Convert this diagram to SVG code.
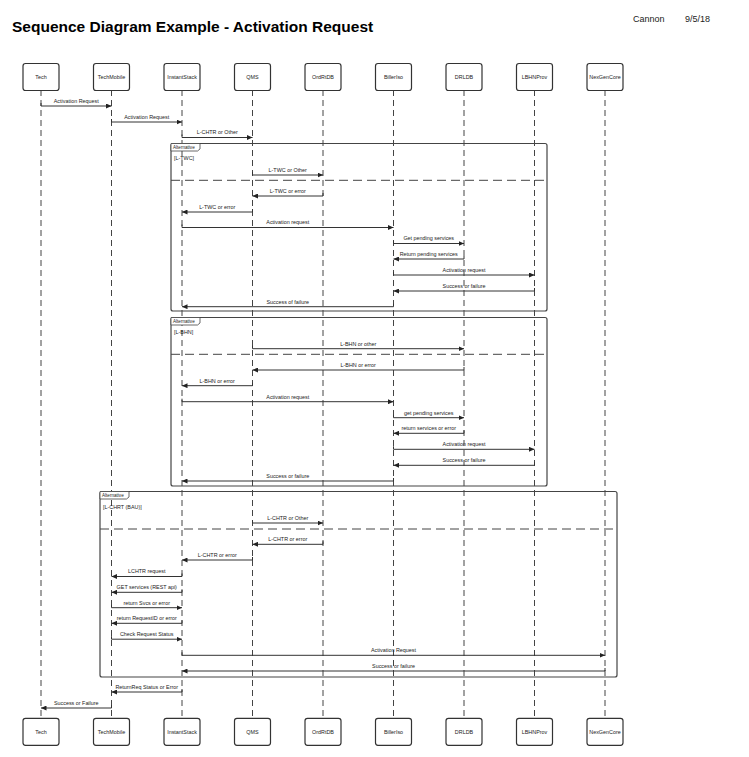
<svg xmlns="http://www.w3.org/2000/svg" width="749" height="757" viewBox="0 0 749 757">
<style>
text{font-family:"Liberation Sans",Arial,sans-serif;fill:#222}
.title{font-size:15.5px;font-weight:bold;fill:#000}
.hdr{font-size:9px;fill:#222}
.pl{font-size:5.4px;text-anchor:middle}
.box{fill:#fff;stroke:#333;stroke-width:1.2}
.ll{stroke:#444;stroke-width:1;stroke-dasharray:6 4;fill:none}
.frame{fill:none;stroke:#444;stroke-width:1.2}
.div{stroke:#444;stroke-width:1;stroke-dasharray:9 5;fill:none}
.tab{fill:#fff;stroke:#444;stroke-width:0.8}
.tabt{font-size:4.6px}
.guard{font-size:5.4px}
.msg{fill:none;stroke:#333;stroke-width:1;marker-end:url(#ah)}
.lbl{font-size:5.4px;text-anchor:middle}
</style>
<defs>
<marker id="ah" markerUnits="userSpaceOnUse" markerWidth="6" markerHeight="5" refX="5.5" refY="2.5" orient="auto">
<path d="M0,0 L5.5,2.5 L0,5 z" fill="#222"/>
</marker>
</defs>
<rect width="749" height="757" fill="#fff"/>
<text class="title" x="12" y="31.5">Sequence Diagram Example - Activation Request</text>
<text class="hdr" x="633" y="22">Cannon</text>
<text class="hdr" x="685" y="22">9/5/18</text>

<g id="p-tech"><path class="ll" d="M41,90 V718"/><rect class="box" x="23" y="63.5" width="36" height="27" rx="2.5"/><text class="pl" x="41" y="79">Tech</text><rect class="box" x="23" y="718.3" width="36" height="27" rx="2.5"/><text class="pl" x="41" y="733.5">Tech</text></g>
<g id="p-techmobile"><path class="ll" d="M111.5,90 V718"/><rect class="box" x="93.5" y="63.5" width="36" height="27" rx="2.5"/><text class="pl" x="111.5" y="79">TechMobile</text><rect class="box" x="93.5" y="718.3" width="36" height="27" rx="2.5"/><text class="pl" x="111.5" y="733.5">TechMobile</text></g>
<g id="p-instantstack"><path class="ll" d="M182,90 V718"/><rect class="box" x="164" y="63.5" width="36" height="27" rx="2.5"/><text class="pl" x="182" y="79">InstantStack</text><rect class="box" x="164" y="718.3" width="36" height="27" rx="2.5"/><text class="pl" x="182" y="733.5">InstantStack</text></g>
<g id="p-qms"><path class="ll" d="M252.5,90 V718"/><rect class="box" x="234.5" y="63.5" width="36" height="27" rx="2.5"/><text class="pl" x="252.5" y="79">QMS</text><rect class="box" x="234.5" y="718.3" width="36" height="27" rx="2.5"/><text class="pl" x="252.5" y="733.5">QMS</text></g>
<g id="p-ordrtdb"><path class="ll" d="M323,90 V718"/><rect class="box" x="305" y="63.5" width="36" height="27" rx="2.5"/><text class="pl" x="323" y="79">OrdRtDB</text><rect class="box" x="305" y="718.3" width="36" height="27" rx="2.5"/><text class="pl" x="323" y="733.5">OrdRtDB</text></g>
<g id="p-billeriso"><path class="ll" d="M393.5,90 V718"/><rect class="box" x="375.5" y="63.5" width="36" height="27" rx="2.5"/><text class="pl" x="393.5" y="79">BillerIso</text><rect class="box" x="375.5" y="718.3" width="36" height="27" rx="2.5"/><text class="pl" x="393.5" y="733.5">BillerIso</text></g>
<g id="p-drldb"><path class="ll" d="M464,90 V718"/><rect class="box" x="446" y="63.5" width="36" height="27" rx="2.5"/><text class="pl" x="464" y="79">DRLDB</text><rect class="box" x="446" y="718.3" width="36" height="27" rx="2.5"/><text class="pl" x="464" y="733.5">DRLDB</text></g>
<g id="p-lbhnprov"><path class="ll" d="M534.5,90 V718"/><rect class="box" x="516.5" y="63.5" width="36" height="27" rx="2.5"/><text class="pl" x="534.5" y="79">LBHNProv</text><rect class="box" x="516.5" y="718.3" width="36" height="27" rx="2.5"/><text class="pl" x="534.5" y="733.5">LBHNProv</text></g>
<g id="p-nexgencore"><path class="ll" d="M605,90 V718"/><rect class="box" x="587" y="63.5" width="36" height="27" rx="2.5"/><text class="pl" x="605" y="79">NexGenCore</text><rect class="box" x="587" y="718.3" width="36" height="27" rx="2.5"/><text class="pl" x="605" y="733.5">NexGenCore</text></g>

<g id="frames">
<g id="alt1">
<rect class="frame" x="171" y="143.5" width="376" height="167.5" rx="2"/>
<path class="div" d="M171,180.3 H545"/>
<path class="tab" d="M171,143.5 H200 V149 L197.5,151 H171 Z"/>
<text class="tabt" x="173" y="149">Alternative</text>
<text class="guard" x="174" y="160">[L-TWC]</text>
</g>
<g id="alt2">
<rect class="frame" x="171" y="317.5" width="376" height="168.5" rx="2"/>
<path class="div" d="M171,354.3 H545"/>
<path class="tab" d="M171,317.5 H200 V323 L197.5,325 H171 Z"/>
<text class="tabt" x="173" y="323">Alternative</text>
<text class="guard" x="174" y="334">[L-BHN]</text>
</g>
<g id="alt3">
<rect class="frame" x="100" y="491.5" width="517" height="185.5" rx="2"/>
<path class="div" d="M100,529 H615"/>
<path class="tab" d="M100,491.5 H129 V497 L126.5,499 H100 Z"/>
<text class="tabt" x="102" y="497">Alternative</text>
<text class="guard" x="103" y="509">[L-CHRT (BAU)]</text>
</g>
</g>

<g id="connectors">
<path class="msg" d="M41,103 V106 H111.5"/><text class="lbl" x="76.25" y="102.8">Activation Request</text>
<path class="msg" d="M111.5,119 V122 H182"/><text class="lbl" x="146.75" y="118.8">Activation Request</text>
<path class="msg" d="M182,134.5 V137.5 H252.5"/><text class="lbl" x="217.25" y="134.3">L-CHTR or Other</text>
<path class="msg" d="M252.5,172 V175 H323"/><text class="lbl" x="287.75" y="171.8">L-TWC or Other</text>
<path class="msg" d="M323,193 V196 H252.5"/><text class="lbl" x="287.75" y="192.8">L-TWC or error</text>
<path class="msg" d="M252.5,209 V212 H182"/><text class="lbl" x="217.25" y="208.8">L-TWC or error</text>
<path class="msg" d="M182,224.5 V227.5 H393.5"/><text class="lbl" x="287.75" y="224.3">Activation request</text>
<path class="msg" d="M393.5,240.5 V243.5 H464"/><text class="lbl" x="428.75" y="240.3">Get pending services</text>
<path class="msg" d="M464,256 V259 H393.5"/><text class="lbl" x="428.75" y="255.8">Return pending services</text>
<path class="msg" d="M393.5,272 V275 H534.5"/><text class="lbl" x="464" y="271.8">Activation request</text>
<path class="msg" d="M534.5,288 V291 H393.5"/><text class="lbl" x="464" y="287.8">Success  or failure</text>
<path class="msg" d="M393.5,303.7 V306.7 H182"/><text class="lbl" x="287.75" y="303.5">Success of failure</text>
<path class="msg" d="M252.5,345.7 V348.7 H464"/><text class="lbl" x="358.25" y="345.5">L-BHN or other</text>
<path class="msg" d="M464,367 V370 H252.5"/><text class="lbl" x="358.25" y="366.8">L-BHN or error</text>
<path class="msg" d="M252.5,382.7 V385.7 H182"/><text class="lbl" x="217.25" y="382.5">L-BHN or error</text>
<path class="msg" d="M182,398.7 V401.7 H393.5"/><text class="lbl" x="287.75" y="398.5">Activation request</text>
<path class="msg" d="M393.5,414.7 V417.7 H464"/><text class="lbl" x="428.75" y="414.5">get pending services</text>
<path class="msg" d="M464,430.3 V433.3 H393.5"/><text class="lbl" x="428.75" y="430.1">return services or error</text>
<path class="msg" d="M393.5,446.3 V449.3 H534.5"/><text class="lbl" x="464" y="446.1">Activation request</text>
<path class="msg" d="M534.5,462.3 V465.3 H393.5"/><text class="lbl" x="464" y="462.1">Success or failure</text>
<path class="msg" d="M393.5,478 V481 H182"/><text class="lbl" x="287.75" y="477.8">Success or failure</text>
<path class="msg" d="M252.5,520 V523 H323"/><text class="lbl" x="287.75" y="519.8">L-CHTR or Other</text>
<path class="msg" d="M323,541.3 V544.3 H252.5"/><text class="lbl" x="287.75" y="541.1">L-CHTR or error</text>
<path class="msg" d="M252.5,557 V560 H182"/><text class="lbl" x="217.25" y="556.8">L-CHTR or error</text>
<path class="msg" d="M182,573.5 V576.5 H111.5"/><text class="lbl" x="146.75" y="573.3">LCHTR request</text>
<path class="msg" d="M182,589.3 V592.3 H111.5"/><text class="lbl" x="146.75" y="589.1">GET services (REST api)</text>
<path class="msg" d="M111.5,604.7 V607.7 H182"/><text class="lbl" x="146.75" y="604.5">return Svcs or error</text>
<path class="msg" d="M182,620.3 V623.3 H111.5"/><text class="lbl" x="146.75" y="620.1">return RequestID or error</text>
<path class="msg" d="M111.5,636.2 V639.2 H182"/><text class="lbl" x="146.75" y="636">Check Request Status</text>
<path class="msg" d="M182,652.3 V655.3 H605"/><text class="lbl" x="393.5" y="652.1">Activation Request</text>
<path class="msg" d="M605,668 V671 H182"/><text class="lbl" x="393.5" y="667.8">Success or failure</text>
<path class="msg" d="M182,689 V692 H111.5"/><text class="lbl" x="146.75" y="688.8">ReturnReq Status or Error</text>
<path class="msg" d="M111.5,705 V708 H41"/><text class="lbl" x="76.25" y="704.8">Success or Failure</text>
</g>
</svg>
